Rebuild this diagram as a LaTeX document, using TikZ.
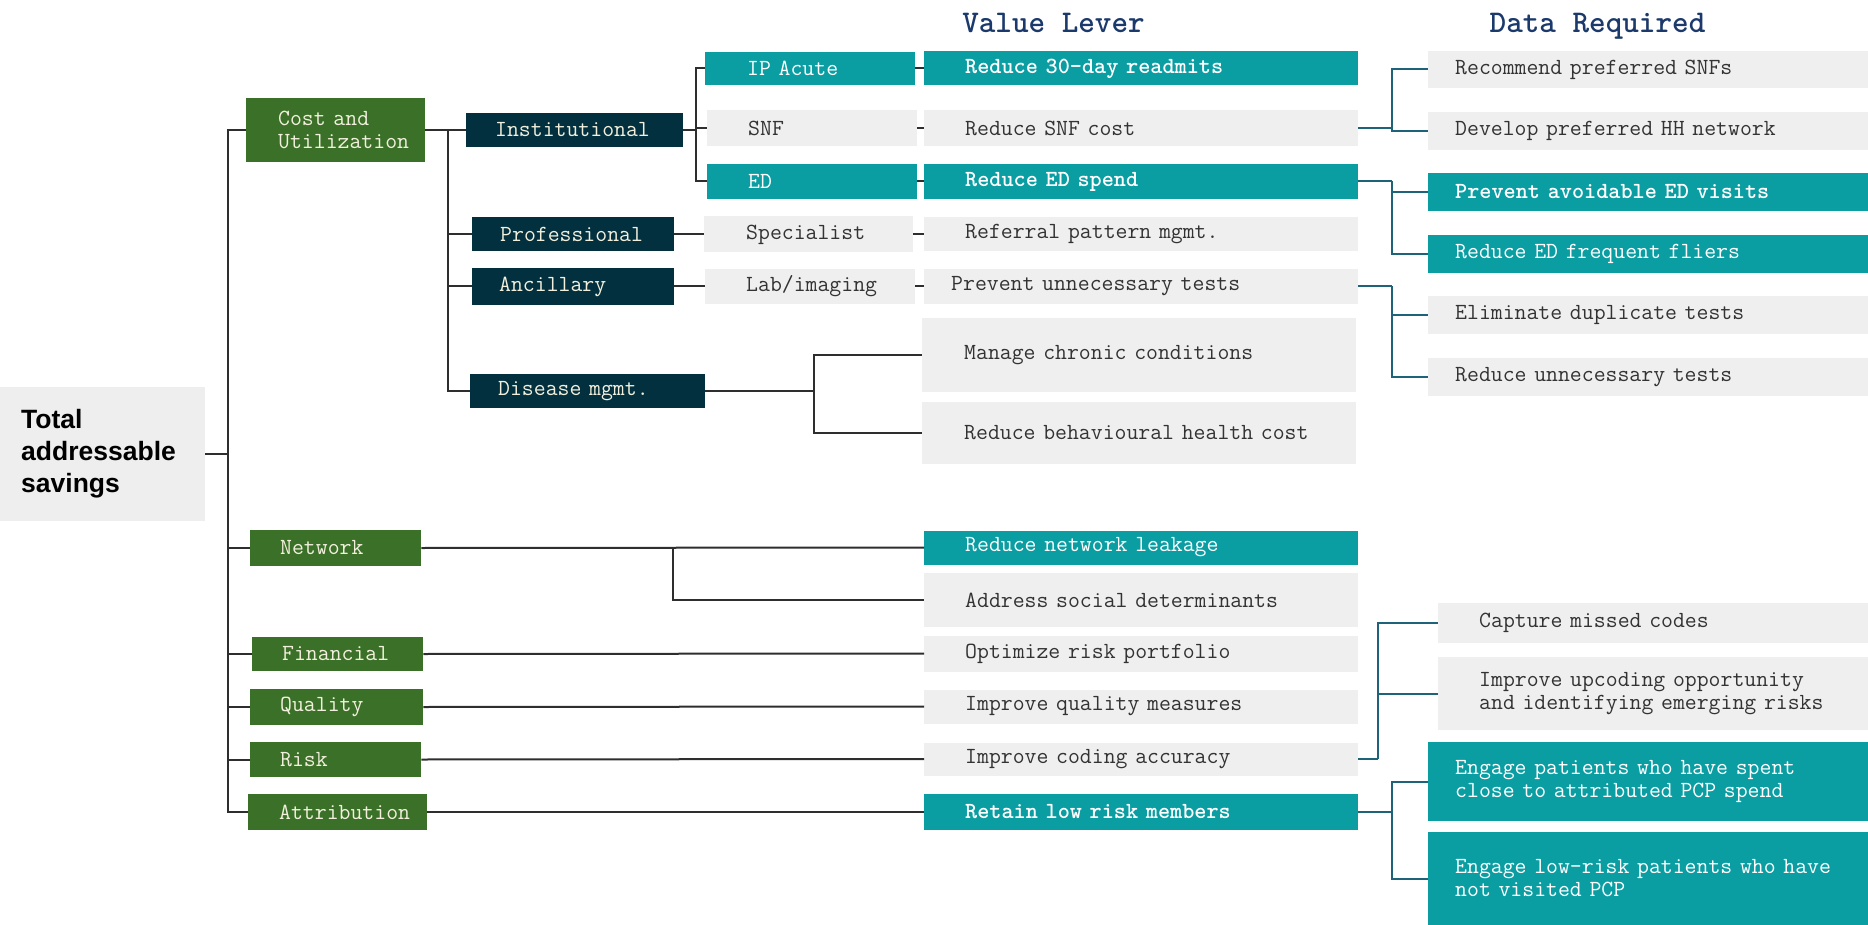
\documentclass[tikz,border=0pt]{standalone}
\usepackage{fontspec}
\setsansfont{Liberation Sans}
\definecolor{verdeC}{HTML}{3A7028}
\definecolor{marinoC}{HTML}{03303F}
\definecolor{turqC}{HTML}{0A9EA3}
\definecolor{grisC}{HTML}{EFEFEF}
\definecolor{raizC}{HTML}{EEEEEE}
\definecolor{cremaC}{HTML}{F2F0DC}
\definecolor{textoC}{HTML}{333333}
\definecolor{tituloC}{HTML}{1B3A6B}
\definecolor{lineaC}{HTML}{2E2E2E}
\definecolor{azulC}{HTML}{1E6379}

\begin{document}
\begin{tikzpicture}[x=1pt, y=-1pt,
    caja/.style={anchor=west, inner ysep=0pt, align=left,
      font=\ttfamily\fontsize{23.1}{23}\selectfont},
    tam/.code n args={3}{%
      \pgfmathsetmacro\anchoT{#1-2*#3}%
      \edef\tmpT{\noexpand\pgfkeysalso{minimum width=#1pt, minimum height=#2pt,
        inner xsep=#3pt, text width=\anchoT pt}}\tmpT},
    verde/.style={caja, fill=verdeC, text=cremaC},
    marino/.style={caja, fill=marinoC, text=cremaC},
    turq/.style={caja, fill=turqC, text=white},
    gris/.style={caja, fill=grisC, text=textoC},
    titulo/.style={anchor=base, text=tituloC,
      font=\ttfamily\bfseries\fontsize{31.6}{34}\selectfont},
    linea/.style={line width=2pt, draw=lineaC},
    lineat/.style={line width=2pt, draw=azulC}]

  \useasboundingbox (0,0) rectangle (1868,925);

  % Titulos de columnas
  \node[titulo] (tvalor) at (1053.5,33) {Value Lever};
  \node[titulo] (tdatos) at (1597.5,33) {Data Required};

  % Nodo raiz
  \node[anchor=west, fill=raizC, minimum width=205pt, minimum height=134pt,
    inner xsep=21pt, text width=163pt, align=left,
    font=\sffamily\bfseries\fontsize{26.5}{32}\selectfont] (raiz) at (0,454)
    {Total\\addressable\\savings};

  % Nivel 1
  \node[verde, tam={179}{64}{32}] (costo) at (246,130) {Cost and\\Utilization};
  \node[verde, tam={171}{36}{30}] (red) at (250,548) {Network};
  \node[verde, tam={171}{34}{30}] (fin) at (252,654) {Financial};
  \node[verde, tam={173}{36}{30}] (cal) at (250,707) {Quality};
  \node[verde, tam={171}{35}{30}] (riesgo) at (250,759.5) {Risk};
  \node[verde, tam={179}{36}{31}] (atrib) at (248,812) {Attribution};

  % Nivel 2
  \node[marino, tam={217}{34}{29}] (inst) at (466,130) {Institutional};
  \node[marino, tam={202}{34}{28}] (prof) at (472,234.5) {Professional};
  \node[marino, tam={202}{36}{27}] (anc) at (472,286.5) {Ancillary};
  \node[marino, tam={235}{34}{28}] (enf) at (470,391) {Disease mgmt.};

  % Nivel 3
  \node[turq, tam={210}{33}{42}] (ipa) at (705,68.5) {IP Acute};
  \node[gris, tam={210}{36}{41}] (snf) at (707,128.5) {SNF};
  \node[turq, tam={210}{35}{41}] (ed) at (707,181.5) {ED};
  \node[gris, tam={209}{36}{42}] (esp) at (704,234.5) {Specialist};
  \node[gris, tam={210}{34}{41}] (lab) at (705,286.5) {Lab/imaging};

  % Palancas de valor
  \node[turq, tam={434}{34}{41}] (v1) at (924,68.5) {\bfseries Reduce 30-day readmits};
  \node[gris, tam={434}{36}{41}] (v2) at (924,128.5) {Reduce SNF cost};
  \node[turq, tam={434}{35}{41}] (v3) at (924,181.5) {\bfseries Reduce ED spend};
  \node[gris, tam={434}{34}{41}] (v4) at (924,234.5) {Referral pattern mgmt.};
  \node[gris, tam={434}{34}{27}] (v5) at (924,286.5) {Prevent unnecessary tests};
  \node[gris, tam={434}{74}{42}] (v6) at (922,355) {Manage chronic conditions};
  \node[gris, tam={434}{62}{42}] (v7) at (922,433) {Reduce behavioural health cost};
  \node[turq, tam={434}{34}{41}] (v8) at (924,547.5) {Reduce network leakage};
  \node[gris, tam={434}{54}{41}] (v9) at (924,600) {Address social determinants};
  \node[gris, tam={434}{36}{41}] (v10) at (924,653.5) {Optimize risk portfolio};
  \node[gris, tam={434}{34}{41}] (v11) at (924,706.5) {Improve quality measures};
  \node[gris, tam={434}{33}{41}] (v12) at (924,759) {Improve coding accuracy};
  \node[turq, tam={434}{36}{41}] (v13) at (924,812) {\bfseries Retain low risk members};

  % Datos requeridos
  \node[gris, tam={440}{37}{27}] (d1) at (1428,69.5) {Recommend preferred SNFs};
  \node[gris, tam={440}{38}{27}] (d2) at (1428,131) {Develop preferred HH network};
  \node[turq, tam={440}{38}{27}] (d3) at (1428,192) {\bfseries Prevent avoidable ED visits};
  \node[turq, tam={440}{38}{27}] (d4) at (1428,254) {Reduce ED frequent fliers};
  \node[gris, tam={440}{38}{27}] (d5) at (1428,315) {Eliminate duplicate tests};
  \node[gris, tam={440}{38}{27}] (d6) at (1428,377) {Reduce unnecessary tests};
  \node[gris, tam={430}{40}{41}] (d7) at (1438,623) {Capture missed codes};
  \node[gris, tam={430}{73}{41}] (d8) at (1438,693.5)
    {Improve upcoding opportunity\\and identifying emerging risks};
  \node[turq, tam={440}{79}{27}] (d9) at (1428,781.5)
    {Engage patients who have spent\\close to attributed PCP spend};
  \node[turq, tam={440}{93}{27}] (d10) at (1428,878.5)
    {Engage low-risk patients who have\\not visited PCP};

  % Tronco principal
  \coordinate (tr) at (228,454);
  \draw[linea] (raiz.east) -- (tr);
  \foreach \n in {costo,red,fin,cal,riesgo,atrib}
    \draw[linea] (tr) |- (\n.west);

  % Ramas de Cost and Utilization
  \coordinate (cu) at (448,130);
  \draw[linea] (costo.east) -- (cu);
  \foreach \n in {inst,prof,anc,enf}
    \draw[linea] (cu) |- (\n.west);

  % Ramas de Institutional
  \coordinate (ins) at (696,130);
  \draw[linea] (inst.east) -- (ins);
  \foreach \n in {ipa,snf,ed}
    \draw[linea] (ins) |- (\n.west);
  \draw[linea] (prof.east) -- (esp.west);
  \draw[linea] (anc.east) -- (lab.west);

  % Hacia las palancas de valor
  \draw[linea] (ipa.east) -- (v1.west);
  \draw[linea] (snf.east) -- (v2.west);
  \draw[linea] (ed.east) -- (v3.west);
  \draw[linea] (esp.east) -- (v4.west);
  \draw[linea] (lab.east) -- (v5.west);
  \coordinate (dm) at (814,391);
  \draw[linea] (enf.east) -- (dm);
  \draw[linea] (dm) |- (v6.west);
  \draw[linea] (dm) |- (v7.west);
  \coordinate (nw) at (673,547.5);
  \draw[linea] (red.east) -- (v8.west);
  \draw[linea] (nw) |- (v9.west);
  \draw[linea] (fin.east) -- (v10.west);
  \draw[linea] (cal.east) -- (v11.west);
  \draw[linea] (riesgo.east) -- (v12.west);
  \draw[linea] (atrib.east) -- (v13.west);

  % Hacia los datos requeridos
  \coordinate (s2) at (1392,128.5);
  \draw[lineat] (v2.east) -- (s2);
  \draw[lineat] (s2) |- (d1.west);
  \draw[lineat] (s2) |- (d2.west);
  \coordinate (s3) at (1392,181.5);
  \draw[lineat] (v3.east) -- (s3);
  \draw[lineat] (s3) |- (d3.west);
  \draw[lineat] (s3) |- (d4.west);
  \coordinate (s5) at (1392,286.5);
  \draw[lineat] (v5.east) -- (s5);
  \draw[lineat] (s5) |- (d5.west);
  \draw[lineat] (s5) |- (d6.west);
  \coordinate (s12) at (1378,759);
  \draw[lineat] (v12.east) -- (s12);
  \draw[lineat] (s12) |- (d7.west);
  \draw[lineat] (s12) |- (d8.west);
  \coordinate (s13) at (1392,812);
  \draw[lineat] (v13.east) -- (s13);
  \draw[lineat] (s13) |- (d9.west);
  \draw[lineat] (s13) |- (d10.west);
\end{tikzpicture}
\end{document}
